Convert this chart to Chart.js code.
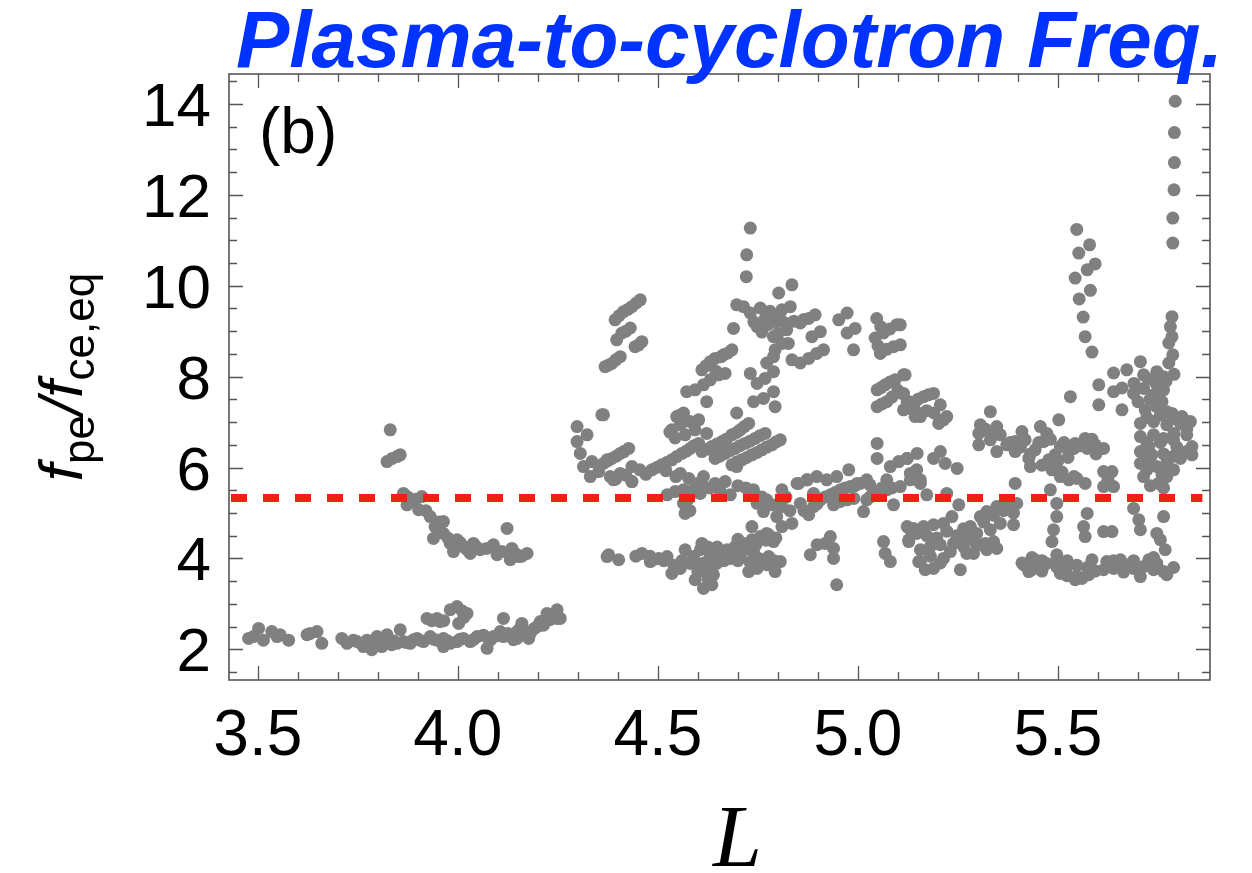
<!DOCTYPE html>
<html>
<head>
<meta charset="utf-8">
<script src="https://cdn.jsdelivr.net/npm/chart.js@4"></script>
<style>
  html, body { margin: 0; padding: 0; background: #fff; }
  canvas { display: block; }
</style>
</head>
<body>
<canvas id="chart" width="1252" height="873"></canvas>
<script>
// axis ranges and tick labels
const xRange = [3.428, 5.88];
const yRange = [1.324, 14.66];
const xMajorTicks = [3.5, 4.0, 4.5, 5.0, 5.5];
const xTickLabels = ['3.5', '4.0', '4.5', '5.0', '5.5'];
const yMajorTicks = [2, 4, 6, 8, 10, 12, 14];
const yTickLabels = ['2', '4', '6', '8', '10', '12', '14'];

// red dashed reference level
const thresholdLevel = 5.33;
const thresholdSpan = [3.433, 5.861];

// [L, fpe/fce,eq], grouped by region
const lowBand = [
  [3.477,2.24],[3.489,2.28],[3.502,2.46],[3.514,2.20],[3.535,2.39],[3.548,2.28],[3.556,2.32],[3.577,2.20],
  [3.623,2.32],[3.631,2.35],[3.648,2.39],[3.660,2.13],[3.710,2.24],[3.723,2.13],[3.739,2.20],[3.748,2.17],
  [3.764,2.06],[3.773,2.20],[3.785,1.99],[3.789,2.06],[3.798,2.28],[3.810,2.06],[3.823,2.32],[3.823,2.13],
  [3.831,2.20],[3.835,2.10],[3.848,2.13],[3.856,2.43],[3.864,2.17],[3.881,2.13],[3.889,2.21],[3.898,2.24],
  [3.914,2.17],[3.923,2.68],[3.931,2.28],[3.948,2.68],[3.948,2.20],[3.956,2.61],[3.964,2.06],[3.964,2.24],
  [3.981,2.87],[3.981,2.13],[3.998,2.94],[3.998,2.17],[4.002,2.57],[4.014,2.24],[4.023,2.79],[4.031,2.17],
  [4.048,2.28],[4.064,2.31],[4.073,2.02],[4.081,2.20],[4.089,2.28],[4.106,2.39],[4.114,2.68],[4.114,2.28],
  [4.139,2.21],[4.148,2.39],[4.148,2.24],[4.156,2.46],[4.160,2.57],[4.177,2.24],[4.181,2.35],[4.198,2.50],
  [4.206,2.61],[4.214,2.53],[4.223,2.79],[4.239,2.72],[4.248,2.87],[4.248,2.68],[4.256,2.68],
  [3.760,2.12],[3.800,2.10],[3.840,2.18],[3.870,2.15],[3.905,2.20],[3.940,2.22],[3.975,2.18],[4.005,2.22],
  [4.040,2.22],[4.075,2.25],[4.098,2.30],[4.125,2.35],[4.165,2.40],[4.190,2.45],[4.230,2.65],[3.935,2.63],
  [3.965,2.63],[4.015,2.70],[4.010,2.85]
];

const dropBand = [
  [3.831,6.83],[3.823,6.13],[3.848,6.24],[3.856,6.28],[3.836,6.20],[3.864,5.43],[3.873,5.18],[3.875,5.35],
  [3.889,5.25],[3.895,5.30],[3.910,5.36],[3.902,5.07],[3.920,5.05],[3.931,4.92],[3.943,4.70],[3.952,4.80],
  [3.955,4.60],[3.964,4.81],[3.939,4.44],[3.964,4.55],[3.975,4.45],[3.981,4.33],[3.998,4.41],[3.989,4.15],
  [4.006,4.35],[4.014,4.26],[4.022,4.20],[4.039,4.33],[4.031,4.11],[4.047,4.25],[4.056,4.19],[4.072,4.22],
  [4.089,4.30],[4.098,4.08],[4.110,4.15],[4.123,4.66],[4.135,4.22],[4.131,3.97],[4.145,4.10],[4.152,4.04],
  [4.160,4.05],[4.173,4.11],
  [4.298,6.90],[4.323,6.72],[4.298,6.57],[4.306,6.31],[4.314,6.02],[4.335,6.13],[4.331,5.80],[4.352,5.91],
  [4.360,7.16],[4.373,6.17],[4.373,4.04]
];

const peakRegion = [
  [4.456,9.69],[4.446,9.62],[4.435,9.54],[4.425,9.48],[4.414,9.43],[4.403,9.34],[4.393,9.25],[4.431,9.07],
  [4.420,9.00],[4.410,8.96],[4.397,8.81],[4.460,8.77],[4.452,8.70],[4.443,8.66],[4.406,8.44],[4.395,8.37],
  [4.385,8.29],[4.376,8.25],[4.368,8.22],[4.364,7.16],
  [4.731,11.27],[4.722,10.68],[4.721,10.20],[4.802,9.84],[4.835,10.02],[4.697,9.58],[4.714,9.54],[4.689,9.06],
  [4.731,9.40],[4.756,9.51],[4.768,9.28],[4.748,9.10],[4.789,9.36],[4.810,9.47],[4.831,9.54],[4.797,9.21],
  [4.818,9.18],[4.822,9.03],[4.856,9.18],[4.877,9.28],[4.893,9.36],[4.789,8.88],[4.810,8.73],[4.793,8.59],
  [4.826,8.73],[4.772,8.30],[4.789,8.44],[4.835,8.37],[4.856,8.30],[4.877,8.40],[4.897,8.51],[4.914,8.59],
  [4.885,8.88],[4.906,8.99],[4.952,9.25],[4.973,9.40],[4.973,8.96],[4.993,9.06],[4.989,8.59],[5.047,9.28],
  [5.043,8.85],[5.064,8.96],[5.097,9.14],[5.056,8.51],[5.089,8.66],[5.048,7.71],[5.068,7.82],[5.093,7.93],
  [5.114,8.04],[5.048,7.34],[5.072,7.45],[5.110,7.63],[5.123,7.45],[5.143,7.12],
  [4.780,9.44],[4.805,9.28],[4.840,9.22],[4.865,9.26],[4.776,9.15],[4.800,8.95],[4.740,9.20],[4.760,8.98],
  [5.060,7.40],[5.085,7.55],[5.100,7.70],[5.058,7.76],[5.080,7.88],[5.057,9.10],[5.080,9.05],[5.050,8.68],
  [5.072,8.60],[5.130,7.30],[5.150,7.20],
  [4.685,8.59],[4.664,8.48],[4.643,8.40],[4.631,8.33],[4.610,8.15],[4.631,7.93],[4.652,8.04],[4.668,8.07],
  [4.620,8.24],[4.645,8.12],[4.658,8.44],[4.675,8.52],
  [4.572,7.67],[4.593,7.71],[4.614,7.82],[4.622,7.45],[4.731,8.07],[4.748,7.85],[4.768,7.96],[4.789,8.11],
  [4.789,7.67],[4.739,7.45],[4.764,7.52],[4.793,7.34],[4.697,7.20]
];

const streakRegion = [
  [4.535,6.83],[4.556,6.94],[4.577,7.02],[4.602,7.05],[4.547,7.12],[4.564,7.20],[4.543,6.65],[4.568,6.72],
  [4.593,6.83],[4.555,7.15],[4.585,7.00],[4.530,6.78],
  [4.485,5.95],[4.497,6.00],[4.510,6.06],[4.522,6.11],[4.535,6.17],[4.547,6.24],[4.560,6.31],[4.571,6.36],
  [4.581,6.42],[4.590,6.48],[4.602,6.53],
  [4.610,6.35],[4.622,6.40],[4.635,6.46],[4.648,6.52],[4.660,6.57],[4.672,6.63],[4.685,6.72],[4.697,6.77],
  [4.706,6.83],[4.716,6.90],[4.727,6.97],[4.622,6.75],
  [4.643,6.20],[4.655,6.25],[4.668,6.31],[4.680,6.37],[4.693,6.42],[4.705,6.48],[4.718,6.53],[4.730,6.58],
  [4.743,6.64],[4.755,6.70],[4.768,6.75],
  [4.685,6.06],[4.697,6.12],[4.710,6.17],[4.722,6.22],[4.735,6.28],[4.748,6.33],[4.760,6.39],[4.772,6.45],
  [4.785,6.50],[4.795,6.56],[4.806,6.61],
  [4.364,6.09],[4.375,6.15],[4.385,6.20],[4.396,6.25],[4.406,6.31],[4.415,6.35],[4.427,6.42],[4.381,5.80],
  [4.406,5.87],[4.435,6.02],[4.435,5.69],[4.420,5.83],[4.395,5.75],[4.455,5.95],[4.470,5.85],[4.520,5.93],
  [4.545,5.80],
  [4.556,5.87],[4.577,5.76],[4.598,5.65],[4.614,5.80],[4.564,5.51],[4.606,5.43],[4.697,6.02],
  [4.848,5.65],[4.873,5.73],[4.897,5.80],[4.922,5.73],[4.947,5.80],[4.977,5.95],[4.998,5.65],[5.022,5.73],
  [5.048,6.53],[5.048,6.20],[5.072,5.73],[5.081,6.02],[5.102,6.13],[5.123,6.20],[5.148,6.31],[5.131,5.87],
  [5.156,5.65]
];

const midBand = [
  [4.389,5.73],[4.435,5.69],[4.523,5.40],[4.543,5.47],[4.564,5.21],[4.568,4.99],[4.589,5.51],[4.614,5.58],
  [4.643,5.65],[4.668,5.69],[4.681,5.40],[4.739,5.51],[4.748,5.21],[4.764,5.03],[4.772,5.29],[4.797,4.92],
  [4.810,5.14],[4.810,4.70],[4.835,4.77],[4.810,5.51],[4.852,5.65],[4.856,5.21],[4.877,4.96],[4.889,5.14],
  [4.906,5.29],[4.931,5.40],[4.956,5.51],[4.981,5.58],[5.006,5.65],[5.014,5.03],[5.022,5.29],[5.047,5.43],
  [5.072,5.51],[5.089,5.18],[5.106,5.58],[4.889,5.43],[4.939,5.18],[4.973,5.29],[4.873,5.73],
  [4.865,5.05],[4.898,5.20],[4.918,5.35],[4.943,5.45],[4.968,5.55],[4.993,5.60],[5.030,5.62],[5.060,5.55],
  [5.085,5.55],[4.955,5.25],[4.990,5.32],[5.030,5.35],[4.820,5.35],[4.830,5.05],[4.785,5.18],[4.760,5.35],
  [4.720,5.55],[4.700,5.60],[4.655,5.50],[4.630,5.55],[4.600,5.45],[4.575,5.30],[4.580,5.05],
  [4.377,4.08],[4.402,3.97],[4.445,4.05],[4.460,4.11],[4.480,4.05],[4.481,3.93],[4.490,3.98],[4.502,4.00],
  [4.515,3.95],[4.523,4.04],[4.535,3.67],[4.540,3.85],[4.556,3.78],[4.560,3.95],[4.568,4.19],[4.581,3.89],
  [4.590,3.95],[4.593,3.53],[4.600,3.70],[4.606,3.82],[4.610,4.33],[4.614,3.34],[4.615,3.90],[4.625,3.55],
  [4.635,3.42],[4.639,3.64],[4.640,3.95],[4.625,4.25],[4.648,4.25],[4.631,4.04],[4.652,4.11],[4.660,4.05],
  [4.665,3.95],[4.673,4.19],[4.690,4.12],[4.693,4.26],[4.700,4.42],[4.700,3.95],[4.714,4.33],[4.720,4.20],
  [4.730,3.92],[4.735,4.41],[4.745,4.30],[4.756,4.48],[4.760,3.90],[4.770,4.40],[4.777,4.52],[4.790,3.95],
  [4.795,4.45],[4.735,4.70],[4.772,4.55],[4.789,4.37],[4.647,3.89],[4.681,4.00],[4.706,4.08],[4.739,4.15],
  [4.752,4.00],[4.777,4.04],[4.806,3.93],[4.727,3.71],[4.748,3.78],[4.772,3.86],[4.793,3.71],[4.881,4.08],
  [4.898,4.30],[4.918,4.33],[4.931,4.48],[4.939,4.22],[4.939,4.00],[4.947,3.42],[5.064,4.37],[5.068,4.11],
  [5.081,3.93],[5.131,4.63],[5.127,4.37],[5.152,3.93],[4.589,4.04],[4.606,4.19],[4.622,3.75]
];

const rightUpper = [
  [5.106,9.14],[5.106,8.70],[5.118,8.04],
  [5.547,11.24],[5.579,10.90],[5.552,10.72],[5.593,10.48],[5.573,10.35],[5.543,10.17],[5.581,9.90],[5.553,9.71],
  [5.563,9.31],[5.568,8.88],[5.585,8.54],
  [5.793,14.06],[5.791,13.37],[5.791,12.71],[5.790,12.11],[5.787,11.49],[5.787,10.94],[5.785,9.32],[5.781,9.10],
  [5.785,8.88],[5.777,8.74],[5.787,8.48],[5.777,8.30],
  [5.639,8.08],[5.672,8.15],[5.706,8.33],[5.714,8.04],[5.747,8.11],[5.764,8.00],
  [5.725,7.95],[5.745,7.85],[5.770,7.90],[5.790,8.05],[5.700,7.45],[5.730,7.50],[5.760,7.45],[5.690,7.85],
  [5.660,7.75]
];

const rightCluster = [
  [5.114,7.63],[5.164,7.56],[5.189,7.63],[5.139,7.34],[5.156,7.12],[5.206,7.38],[5.222,7.12],[5.202,6.97],
  [5.128,7.45],[5.150,7.50],[5.176,7.60],[5.172,7.25],[5.190,7.20],[5.214,7.05],
  [5.114,7.27],[5.331,7.23],[5.306,6.94],[5.302,6.75],[5.327,6.79],[5.347,6.90],[5.302,6.50],[5.331,6.61],
  [5.347,6.35],[5.372,6.50],[5.393,6.57],[5.393,6.35],[5.410,6.79],[5.418,6.61],[5.427,6.20],[5.431,6.02],
  [5.443,6.39],[5.456,6.90],[5.464,6.57],[5.472,6.75],[5.477,6.17],[5.493,6.28],[5.502,7.05],[5.506,6.46],
  [5.527,6.35],[5.531,7.56],[5.543,6.53],[5.568,6.64],[5.573,6.42],[5.593,6.50],[5.614,6.42],[5.602,7.82],
  [5.318,6.85],[5.356,6.72],[5.381,6.55],[5.406,6.45],[5.431,6.30],[5.452,6.55],[5.481,6.62],[5.515,6.55],
  [5.540,6.42],[5.500,6.15],[5.525,6.22],[5.460,6.05],[5.556,6.48],[5.585,6.62],[5.595,6.30],[5.510,5.90],
  [5.540,5.80],[5.625,5.75],
  [5.602,7.38],[5.485,5.95],[5.506,5.80],[5.527,5.73],[5.547,5.76],[5.568,5.65],[5.614,5.91],[5.635,5.91],
  [5.614,5.58],[5.639,5.58],[5.393,5.65],[5.481,5.51],[5.639,7.67],[5.660,7.27],[5.689,7.63],[5.714,7.74],
  [5.739,7.60],[5.764,7.71],[5.718,7.27],[5.747,7.34],[5.772,7.23],[5.785,7.19],[5.706,6.97],[5.739,7.01],
  [5.772,6.94],[5.806,6.97],[5.831,7.01],[5.706,6.68],[5.727,6.46],[5.739,6.72],[5.764,6.64],[5.789,6.61],
  [5.822,6.72],[5.835,6.46],[5.835,6.28],[5.806,6.20],[5.706,6.35],[5.706,6.09],[5.727,6.17],[5.747,6.02],
  [5.772,6.09],[5.714,5.80],[5.751,5.65],[5.772,5.80],
  [5.722,7.10],[5.756,7.15],[5.789,7.08],[5.810,7.12],[5.822,6.85],[5.790,6.75],[5.722,6.55],[5.756,6.55],
  [5.797,6.45],[5.822,6.35],[5.735,6.28],[5.764,6.30],[5.789,6.25],[5.722,5.95],[5.789,5.95],[5.760,5.85],
  [5.731,5.60],[5.764,5.55],
  [5.123,6.20],[5.147,5.95],[5.131,5.73],[5.156,5.73],[5.189,6.20],[5.206,6.35],[5.218,6.09],[5.248,5.98],
  [5.222,5.43],[5.172,5.40]
];

const lowerRight = [
  [5.123,4.70],[5.139,4.66],[5.127,4.41],[5.164,4.70],[5.189,4.74],[5.214,4.77],[5.235,4.92],[5.156,4.19],
  [5.181,4.26],[5.206,4.30],[5.239,4.33],[5.264,4.26],[5.293,4.37],[5.318,4.33],[5.339,4.37],[5.156,3.93],
  [5.168,3.75],[5.189,3.78],[5.214,4.00],[5.256,3.75],[5.272,4.11],[5.281,4.70],[5.306,4.92],[5.322,5.03],
  [5.347,5.14],[5.372,5.21],[5.397,5.21],[5.252,5.18],[5.297,4.55],[5.331,4.63],[5.356,4.77],[5.389,4.74],
  [5.289,4.11],[5.322,4.19],[5.347,4.22],
  [5.147,4.55],[5.172,4.50],[5.197,4.45],[5.222,4.60],[5.247,4.50],[5.272,4.45],[5.231,4.15],[5.181,4.05],
  [5.206,3.90],[5.297,4.28],[5.264,4.65],[5.314,4.80],[5.339,4.95],[5.364,5.05],[5.389,5.00],
  [5.414,3.86],[5.427,3.71],[5.443,3.97],[5.456,3.82],[5.472,3.89],[5.497,3.97],[5.506,3.67],[5.522,3.82],
  [5.410,3.90],[5.435,3.75],[5.435,4.02],[5.460,3.95],[5.460,3.72],
  [5.498,3.80],[5.523,3.95],[5.523,3.62],[5.547,3.85],[5.547,3.62],[5.573,3.80],[5.593,3.72],
  [5.614,3.75],[5.639,3.95],[5.664,3.70],[5.689,3.95],[5.714,3.82],[5.739,3.75],[5.739,4.02],[5.789,3.80],
  [5.664,3.85],
  [5.543,3.53],[5.560,3.56],[5.577,3.64],[5.585,3.97],[5.622,3.93],[5.639,3.78],[5.656,3.97],[5.672,3.86],
  [5.689,3.78],[5.706,3.60],[5.727,3.97],[5.747,3.89],[5.764,3.71],[5.772,3.64],[5.768,4.19],[5.756,4.41],
  [5.747,4.55],[5.706,4.63],[5.702,4.85],[5.689,5.10],[5.764,4.92],[5.489,4.63],[5.485,4.37],[5.497,4.92],
  [5.497,5.21],[5.573,4.99],[5.564,4.70],[5.568,4.48],[5.614,4.59],[5.635,4.59],[5.497,4.08]
];

const allPoints = [].concat(lowBand, dropBand, peakRegion, streakRegion, midBand, rightUpper, rightCluster, lowerRight)
  .map(p => ({ x: p[0], y: p[1] }));

const FRAME = '#555555';
const SANS = "'Liberation Sans', Arial, sans-serif";

// Mathematica-like frame: inward ticks on all sides plus hand-set text
const framePlugin = {
  id: 'frame',
  afterDraw(chart) {
    const ctx = chart.ctx;
    const a = chart.chartArea;
    const xs = chart.scales.x, ys = chart.scales.y;
    ctx.save();
    ctx.strokeStyle = FRAME;
    ctx.lineWidth = 1.6;
    ctx.strokeRect(a.left, a.top, a.right - a.left, a.bottom - a.top);

    ctx.lineWidth = 1.3;
    ctx.beginPath();
    for (let i = 35; i <= 58; i++) {
      const v = i / 10;
      const px = Math.round(xs.getPixelForValue(v)) + 0.5;
      const len = (i % 5 === 0) ? 14 : 8;
      ctx.moveTo(px, a.bottom); ctx.lineTo(px, a.bottom - len);
      ctx.moveTo(px, a.top); ctx.lineTo(px, a.top + len);
    }
    for (let i = 3; i <= 29; i++) {
      const v = i / 2;
      const py = Math.round(ys.getPixelForValue(v)) + 0.5;
      const len = (i % 4 === 0) ? 14 : 8;
      ctx.moveTo(a.left, py); ctx.lineTo(a.left + len, py);
      ctx.moveTo(a.right, py); ctx.lineTo(a.right - len, py);
    }
    ctx.stroke();

    // tick labels
    ctx.fillStyle = '#000';
    ctx.font = '62px ' + SANS;
    ctx.textAlign = 'right';
    ctx.textBaseline = 'alphabetic';
    yMajorTicks.forEach((v, i) => {
      ctx.fillText(yTickLabels[i], 211, ys.getPixelForValue(v) + 22);
    });
    ctx.font = '64px ' + SANS;
    ctx.textAlign = 'center';
    xMajorTicks.forEach((v, i) => {
      ctx.fillText(xTickLabels[i], xs.getPixelForValue(v), 755);
    });

    // panel tag
    ctx.textAlign = 'left';
    ctx.font = '64px ' + SANS;
    ctx.fillText('(b)', 259, 153);

    // x axis title
    ctx.font = "italic 88px 'Liberation Serif', 'Times New Roman', serif";
    ctx.fillText('L', 713, 866);

    // title
    ctx.fillStyle = '#0033ff';
    ctx.font = 'italic bold 80px ' + SANS;
    ctx.fillText('Plasma-to-cyclotron Freq.', 236, 67);

    // y axis title: f_pe / f_ce,eq
    const parts = [
      { t: 'f', font: 'italic 62px ' + SANS, dy: 0 },
      { t: 'pe', font: '44px ' + SANS, dy: 12 },
      { t: '/', font: 'italic 62px ' + SANS, dy: 0 },
      { t: 'f', font: 'italic 62px ' + SANS, dy: 0 },
      { t: 'ce,eq', font: '44px ' + SANS, dy: 12 }
    ];
    let total = 0;
    parts.forEach(p => { ctx.font = p.font; p.w = ctx.measureText(p.t).width; total += p.w; });
    ctx.fillStyle = '#000';
    ctx.translate(82, (a.top + a.bottom) / 2);
    ctx.rotate(-Math.PI / 2);
    let cx = -total / 2;
    parts.forEach(p => {
      ctx.font = p.font;
      ctx.fillText(p.t, cx, p.dy);
      cx += p.w;
    });
    ctx.restore();
  }
};

new Chart(document.getElementById('chart'), {
  type: 'scatter',
  data: {
    datasets: [
      {
        type: 'line',
        data: thresholdSpan.map(x => ({ x: x, y: thresholdLevel })),
        borderColor: '#ec2213',
        borderWidth: 8,
        borderDash: [16, 16],
        pointRadius: 0,
        fill: false
      },
      {
        data: allPoints,
        backgroundColor: '#808080',
        borderWidth: 0,
        pointRadius: 6.5,
        pointHoverRadius: 6.5
      }
    ]
  },
  options: {
    responsive: false,
    devicePixelRatio: 1,
    animation: false,
    layout: { padding: { top: 74, right: 42, left: 0, bottom: 0 } },
    plugins: { legend: { display: false }, tooltip: { enabled: false } },
    scales: {
      x: {
        type: 'linear',
        min: xRange[0],
        max: xRange[1],
        grid: { display: false },
        border: { display: false },
        ticks: { display: false },
        afterFit(s) { s.height = 193; }
      },
      y: {
        type: 'linear',
        min: yRange[0],
        max: yRange[1],
        grid: { display: false },
        border: { display: false },
        ticks: { display: false },
        afterFit(s) { s.width = 229; }
      }
    }
  },
  plugins: [framePlugin]
});
</script>
</body>
</html>
